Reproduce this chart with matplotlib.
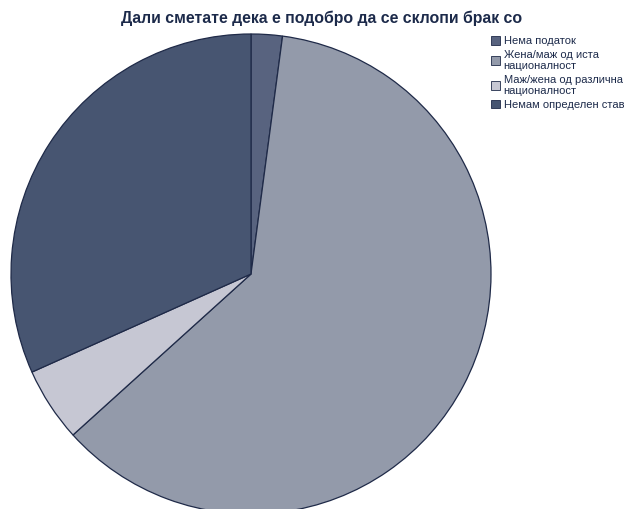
import matplotlib
matplotlib.use('Agg')
import matplotlib.pyplot as plt
from matplotlib.patches import Patch

# Data
labels = ['Нема податок', 'Жена/маж од иста\nнационалност',
          'Маж/жена од различна\nнационалност', 'Немам определен став']
shares = [2.1, 61.2, 5.0, 31.7]
colors = ['#58637f', '#939aaa', '#c6c7d3', '#475571']
title = 'Дали сметате дека е подобро да се склопи брак со'

plt.rcParams['font.family'] = ['Liberation Sans', 'DejaVu Sans']

fig = plt.figure(figsize=(6.27, 5.09), dpi=100)
ax = fig.add_axes([0, 0, 1, 1])

ax.pie(shares, colors=colors, startangle=90, counterclock=False,
       center=(251, 235), radius=240, frame=True,
       wedgeprops={'edgecolor': '#1f2a48', 'linewidth': 0.9})
ax.set_xlim(0, 627)
ax.set_ylim(0, 509)
ax.set_aspect('equal')
ax.axis('off')

fig.text(0.513, 0.964, title, ha='center', va='center',
         fontsize=11.4, fontweight='bold', color='#1c2a4a')

handles = [Patch(facecolor=c, edgecolor='#1f2a48', linewidth=0.6) for c in colors]
leg = fig.legend(handles, labels, loc='upper left', bbox_to_anchor=(0.783, 0.929),
                 frameon=False, fontsize=8, handlelength=0.85, handleheight=0.85,
                 handletextpad=0.3, labelspacing=0.3, borderaxespad=0,
                 borderpad=0)
for t in leg.get_texts():
    t.set_color('#1c2a4a')
    t.set_linespacing(1.2)

fig.savefig('out.png', dpi=100)
